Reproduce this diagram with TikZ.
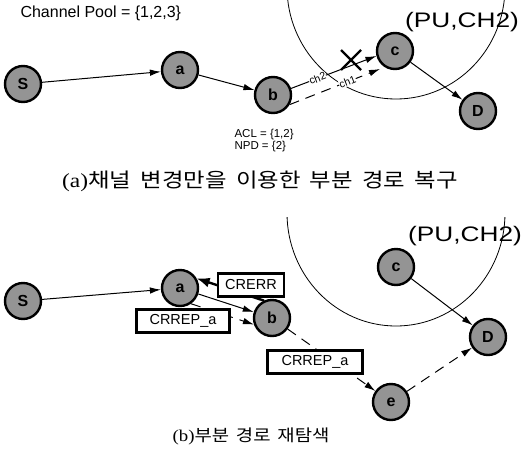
\documentclass[tikz,border=0pt]{standalone}
\usepackage{fontspec}
\setmainfont{Liberation Sans}
\newfontfamily\kr{Noto Sans CJK KR}
\newfontfamily\serifrm{Liberation Serif}
\usetikzlibrary{arrows.meta}
\begin{document}
\begin{tikzpicture}[x=1pt,y=-1pt,
  nd/.style={circle, draw=black, line width=2.4pt, fill=black!42, minimum size=36pt, inner sep=0pt, font=\fontsize{16}{16}\selectfont\bfseries},
  arr/.style={line width=1pt, -{Latex[length=11pt,width=6.5pt]}},
  darr/.style={arr, dash pattern=on 10pt off 7pt},
  heavy/.style={line width=2.4pt, -{Latex[length=13pt,width=10pt]}},
  tbox/.style={draw, line width=2.6pt, fill=white, inner sep=0pt, minimum height=23pt, font=\fontsize{14.5}{14}\selectfont},
  lbl/.style={font=\fontsize{11.5}{12}\selectfont},
  onl/.style={font=\fontsize{10.5}{11}\selectfont, sloped, fill=white, inner sep=0.3pt},
  pu/.style={font=\fontsize{21}{21}\selectfont, xscale=1.25},
  captxt/.style={font=\fontsize{20}{22}\selectfont, xscale=1.17},
  captxtb/.style={font=\fontsize{16.5}{18}\selectfont, xscale=1.14},
  ring/.style={line width=0.8pt}
]
\useasboundingbox (0,0) rectangle (522,461);

% ---------- (a) ----------
\begin{scope}
\clip (0,0) rectangle (522,200);
\draw[ring] (396,-13) ellipse [x radius=109, y radius=112];
\end{scope}

\node[anchor=west, font=\fontsize{16}{16}\selectfont] (pool) at (17,13) {Channel Pool = \{1,2,3\}};
\node[pu] (pu1) at (462,22) {(PU,CH2)};

\node[nd] (S1) at (23,84) {S};
\node[nd] (a1) at (180,70) {a};
\node[nd] (b1) at (273,95) {b};
\node[nd] (c1) at (395,51) {c};
\node[nd] (D1) at (478,111) {D};

\draw[arr] (S1) -- (a1);
\draw[arr] (a1) -- (b1);
\draw[arr] (b1.20) -- node[onl, pos=0.31] (ch2) {ch2} (c1.195);
\draw[line width=2.4pt] (341,50) -- (361,70) (361,50) -- (341,70);
\coordinate (t1) at (380,69);
\draw[darr] (b1.-30) -- node[onl, pos=0.64] (ch1) {ch1} (t1);
\draw[arr] (c1) -- (D1);

\node[anchor=west, lbl] (acl) at (231,135) {ACL = \{1,2\}};
\node[anchor=west, lbl] (npd) at (231,147) {NPD = \{2\}};

\node[captxt] (capa) at (260,181) {\serifrm(a)\kr 채널\hspace{8pt}변경만을\hspace{8pt}이용한\hspace{8pt}부분\hspace{8pt}경로\hspace{8pt}복구};

% ---------- (b) ----------
\begin{scope}
\clip (0,217) rectangle (522,461);
\draw[ring] (396,213) ellipse [x radius=109, y radius=113];
\end{scope}
\node[pu] (pu2) at (465,236) {(PU,CH2)};

\node[nd] (S2) at (23,301) {S};
\node[nd] (a2) at (180,288) {a};
\node[nd] (b2) at (272,318) {b};
\node[nd] (c2) at (396,267) {c};
\node[nd] (D2) at (488,337) {D};
\node[nd] (e2) at (391,402) {e};

\draw[arr] (S2) -- (a2);
\draw[arr] (a2) -- (b2);
\draw[heavy] (b2.115) -- (a2.30);
\node[tbox, minimum width=66pt] (crerr) at (251,285) {CRERR};
\draw[darr] (a2.-55) -- (b2.200);
\node[tbox, minimum width=93pt] (crrep1) at (183,321) {CRREP\_a};
\draw[darr] (b2) -- (e2);
\node[tbox, minimum width=95pt] (crrep2) at (315,362) {CRREP\_a};
\draw[darr] (e2) -- (D2);
\draw[arr] (c2) -- (D2);

\node[captxtb] (capb) at (251,436) {\serifrm(b)\kr 부분\hspace{6pt}경로\hspace{6pt}재탐색};
\end{tikzpicture}
\end{document}
